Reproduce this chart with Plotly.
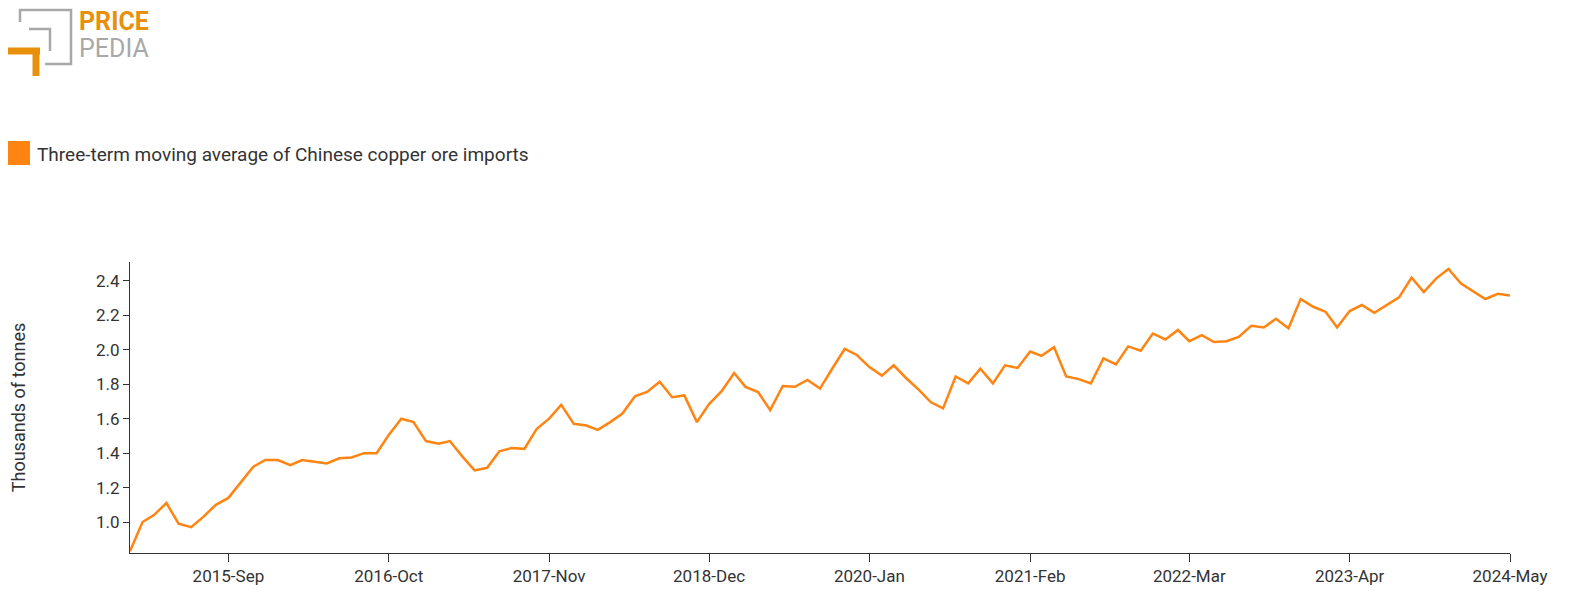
import pandas as pd
import plotly.graph_objects as go

dates = pd.date_range("2015-01-01", "2024-05-01", freq="MS")

imports = [
    0.83, 1.00, 1.04, 1.11, 0.99, 0.97, 1.03, 1.10, 1.14, 1.23,
    1.32, 1.36, 1.36, 1.33, 1.36, 1.35, 1.34, 1.37, 1.375, 1.40,
    1.40, 1.505, 1.60, 1.58, 1.47, 1.455, 1.47, 1.38, 1.30, 1.315,
    1.41, 1.43, 1.425, 1.54, 1.60, 1.68, 1.57, 1.56, 1.535, 1.58,
    1.63, 1.73, 1.755, 1.815, 1.725, 1.735, 1.58, 1.685, 1.76, 1.865,
    1.785, 1.755, 1.65, 1.79, 1.785, 1.825, 1.775, 1.89, 2.005, 1.97,
    1.90, 1.85, 1.91, 1.835, 1.77, 1.695, 1.66, 1.845, 1.805, 1.89,
    1.805, 1.91, 1.895, 1.99, 1.965, 2.015, 1.845, 1.83, 1.805, 1.95,
    1.915, 2.02, 1.995, 2.095, 2.06, 2.115, 2.05, 2.085, 2.045, 2.05,
    2.075, 2.14, 2.13, 2.18, 2.125, 2.295, 2.25, 2.22, 2.13, 2.225,
    2.26, 2.215, 2.26, 2.305, 2.42, 2.335, 2.415, 2.47, 2.385, 2.34,
    2.295, 2.325, 2.315,
]

tick_dates = pd.date_range("2015-09-01", "2024-05-01", freq="13MS")
tick_labels = [d.strftime("%Y-%b") for d in tick_dates]

series_name = "Three-term moving average of Chinese copper ore imports"
orange = "#ff8412"
text_col = "#333"

fig = go.Figure()
fig.add_trace(go.Scatter(
    x=dates, y=imports, mode="lines", name=series_name,
    line=dict(color=orange, width=2.5), showlegend=False,
))

# page puts the figure 8px in from the top-left corner
OFF = 8
W, H = 1569, 613
L, T = 130 - OFF, 262 - OFF
R, B = W - (1510 - OFF), H - (553 - OFF)
fig.update_layout(
    template="plotly_white",
    width=W, height=H,
    margin=dict(l=L, r=R, t=T, b=B),
    font=dict(family="Roboto", size=17, color=text_col),
    paper_bgcolor="white", plot_bgcolor="white",
)
fig.update_xaxes(
    range=[dates[0], dates[-1]], tickvals=tick_dates, ticktext=tick_labels,
    showgrid=False, showline=True, linecolor=text_col, linewidth=1,
    ticks="outside", ticklen=8, tickcolor=text_col, zeroline=False, automargin=False,
)
fig.update_yaxes(
    range=[0.82, 2.51], tickvals=[1.0, 1.2, 1.4, 1.6, 1.8, 2.0, 2.2, 2.4],
    tickformat=".1f", showgrid=False, showline=True, linecolor=text_col,
    ticks="outside", ticklen=6, tickcolor=text_col, zeroline=False, automargin=False,
    title=dict(text="Thousands of tonnes", font=dict(size=18, color=text_col), standoff=66),
)

pw, ph = W - L - R, H - T - B
fx = lambda x: (x - OFF - L) / pw
fy = lambda y: (H - B - (y - OFF)) / ph

# legend drawn by hand (square swatch)
fig.add_shape(type="rect", xref="paper", yref="paper",
              x0=fx(8), x1=fx(30), y0=fy(141), y1=fy(165),
              fillcolor=orange, line=dict(width=0))
fig.add_annotation(x=fx(35), y=fy(154), xref="paper", yref="paper",
                   text=series_name, showarrow=False, xanchor="left", yanchor="middle",
                   font=dict(size=19, color=text_col))

# logo
grey = "#a8a8a8"
logo = "#e8900c"
for path, col, w in [
    ([(20, 22), (20, 10), (71, 10), (71, 64), (45, 64)], grey, 2.5),
    ([(29, 29), (50, 29), (50, 51)], grey, 2.5),
    ([(8, 51), (40, 51)], logo, 7),
    ([(36, 48), (36, 76)], logo, 7),
]:
    d = "M " + " L ".join(f"{fx(x)},{fy(y)}" for x, y in path)
    fig.add_shape(type="path", path=d, xref="paper", yref="paper",
                  line=dict(color=col, width=w))
fig.add_annotation(x=fx(77), y=fy(21), xref="paper", yref="paper",
                   text="<b>PRICE</b>", showarrow=False, xanchor="left", yanchor="middle",
                   font=dict(size=25, color=logo, family="Roboto"))
fig.add_annotation(x=fx(77), y=fy(49), xref="paper", yref="paper",
                   text="PEDIA", showarrow=False, xanchor="left", yanchor="middle",
                   font=dict(size=25, color=grey, family="Roboto"))

fig.write_html("out.html")
